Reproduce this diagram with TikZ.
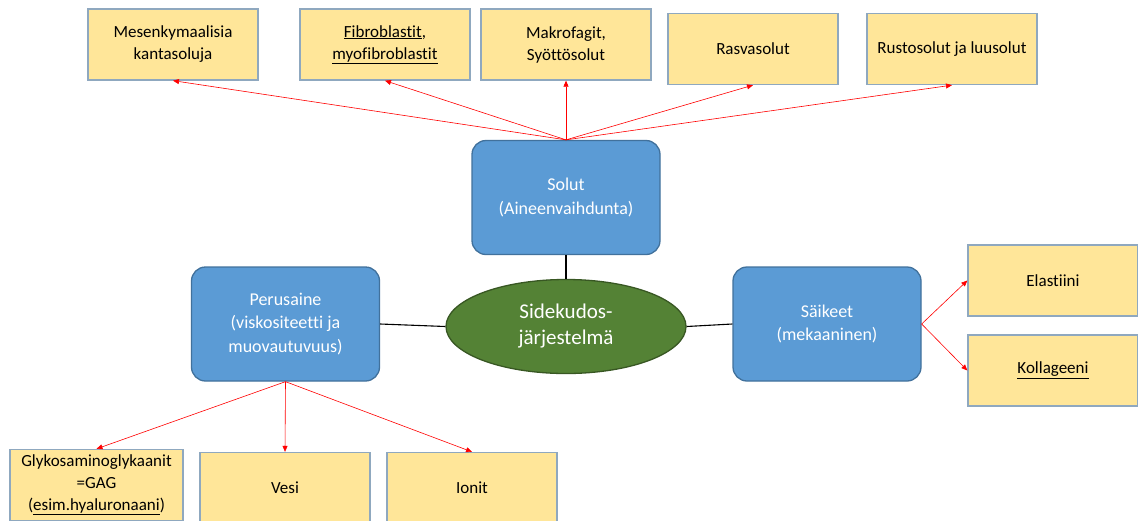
\documentclass[tikz,border=0pt]{standalone}
\usepackage{fontspec}
\setmainfont{Carlito}[Ligatures=NoCommon]
\usetikzlibrary{arrows.meta,shapes.geometric}

\definecolor{kelta}{HTML}{FFE699}
\definecolor{kehys}{HTML}{8FA8BF}
\definecolor{sini}{HTML}{5B9BD5}
\definecolor{sinireuna}{HTML}{41719C}
\definecolor{vihrea}{HTML}{548235}
\definecolor{vihreareuna}{HTML}{385723}

\tikzset{
  solu/.style={draw=kehys, line width=1.3pt, fill=kelta, minimum width=170pt,
    minimum height=71pt, inner sep=2pt, align=center,
    font=\fontsize{17}{22}\selectfont},
  osa/.style={draw=sinireuna, line width=1.3pt, fill=sini, rounded corners=14pt,
    minimum width=188pt, minimum height=114pt, align=center, text=white,
    font=\fontsize{18}{23.5}\selectfont},
  keski/.style={ellipse, draw=vihreareuna, line width=1.3pt, fill=vihrea,
    minimum width=240pt, minimum height=94pt, inner sep=0pt, align=center,
    text=white, font=\fontsize{21}{26}\selectfont},
  nuoli/.style={draw=red, line width=0.6pt, -{Triangle[length=6pt,width=5pt]}},
  viiva/.style={draw=black, line width=1.1pt}
}

\begin{document}
\begin{tikzpicture}[x=1pt, y=-1pt]

  %% ==== keskus ja päähaarat ====
  \node[keski] (keskus) at (566,326.5) {Sidekudos-\\järjestelmä};
  \node[osa] (solut)   at (566,197.5) {Solut\\(Aineenvaihdunta)};
  \node[osa] (perus)   at (285.5,324) {Perusaine\\(viskositeetti ja\\muovautuvuus)};
  \node[osa] (saikeet) at (827,324)   {Säikeet\\(mekaaninen)};

  %% ==== solutyypit (ylärivi) ====
  \node[solu] (mesen) at (173,44.5) {Mesenkymaalisia\\kantasoluja};
  \node[solu] (fibro) at (385,44.5) {\underline{Fibroblastit},\\\underline{myofibroblastit}};
  \node[solu] (makro) at (566,44.5) {Makrofagit,\\Syöttösolut};
  \node[solu] (rasva) at (753,49)   {Rasvasolut};
  \node[solu] (rusto) at (952,49)   {Rustosolut ja luusolut};

  %% ==== säikeet (oikea) ====
  \node[solu] (elast) at (1053,280.5) {Elastiini};
  \node[solu] (kolla) at (1053,370.5) {\underline{Kollageeni}};

  %% ==== perusaineen osat (alarivi) ====
  \node[solu, minimum width=173pt] (glyk) at (96.5,485) {Glykosaminoglykaanit\\=GAG\\(\underline{esim.hyaluronaani})};
  \node[solu] (vesi)  at (285,488) {Vesi};
  \node[solu] (ionit) at (472,488) {Ionit};

  %% ==== mustat yhdysviivat ====
  \draw[viiva] (solut.south) -- (keskus.north);
  \draw[viiva] (perus.east) -- (keskus.west);
  \draw[viiva] (keskus.east) -- (saikeet.west);

  %% ==== punaiset nuolet ====
  \foreach \kohde in {mesen,fibro,makro,rasva,rusto}
    \draw[nuoli] (solut.north) -- (\kohde.south);
  \foreach \kohde in {glyk,vesi,ionit}
    \draw[nuoli] (perus.south) -- (\kohde.north);
  \foreach \kohde in {elast,kolla}
    \draw[nuoli] (saikeet.east) -- (\kohde.west);

  % kiinteä kangas 1138 x 520
  \pgfresetboundingbox
  \path[use as bounding box] (0,0) rectangle (1138,520);
\end{tikzpicture}
\end{document}
